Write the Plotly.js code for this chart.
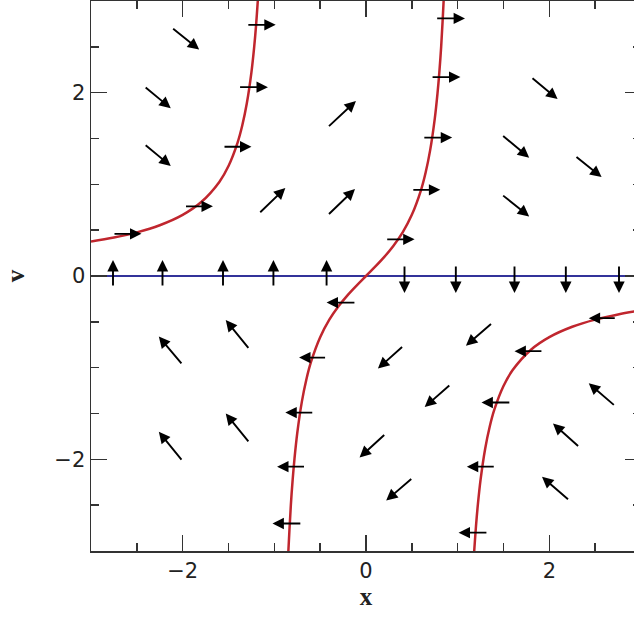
<!DOCTYPE html>
<html>
<head>
<meta charset="utf-8">
<script src="https://cdn.plot.ly/plotly-3.0.1.min.js"></script>
<style>
html, body { margin:0; padding:0; overflow:hidden; background:#fff; }
#plot { width:642px; height:618px; }
</style>
</head>
<body>
<div id="plot"></div>
<script>
// Red nullcline, three branches
const curveLeftX  = [-3.0, -2.75, -2.5, -2.25, -2.0, -1.8, -1.6, -1.5, -1.4, -1.35, -1.3, -1.25, -1.22, -1.2, -1.18, -1.17];
const curveLeftV  = [0.375, 0.419, 0.476, 0.554, 0.667, 0.804, 1.026, 1.2, 1.458, 1.641, 1.884, 2.222, 2.498, 2.727, 3.007, 3.17];
const curveMidX   = [-0.86, -0.85, -0.82, -0.8, -0.78, -0.75, -0.7, -0.65, -0.6, -0.5, -0.4, -0.3, -0.2, -0.1, 0, 0.1, 0.2, 0.3, 0.4, 0.5, 0.6, 0.65, 0.7, 0.75, 0.78, 0.8, 0.82, 0.85, 0.86];
const curveMidV   = [-3.29, -3.063, -2.503, -2.222, -1.992, -1.714, -1.373, -1.126, -0.9375, -0.667, -0.476, -0.330, -0.208, -0.101, 0, 0.101, 0.208, 0.330, 0.476, 0.667, 0.9375, 1.126, 1.373, 1.714, 1.992, 2.222, 2.503, 3.063, 3.29];
const curveRightX = [1.17, 1.18, 1.2, 1.22, 1.25, 1.3, 1.35, 1.4, 1.5, 1.6, 1.8, 2.0, 2.25, 2.5, 2.75, 3.0];
const curveRightV = [-3.17, -3.007, -2.727, -2.498, -2.222, -1.884, -1.641, -1.458, -1.2, -1.026, -0.804, -0.667, -0.554, -0.476, -0.419, -0.375];

// Blue nullcline
const lineX = [-3, 3];
const lineV = [0, 0];

// Direction-field arrows: tail (x0, v0) -> tip (x1, v1)
const arrowX0 = [
  -2.76, -2.22, -1.56, -1.01, -0.43,
   0.42,  0.98,  1.62,  2.18,  2.76,
  -2.76, -1.98, -1.56, -1.39, -1.30,
   0.76,  0.71,  0.62,  0.50,  0.215,
  -0.11, -0.43, -0.57, -0.66, -0.70,
   2.73,  1.93,  1.58,  1.41,  1.33,
  -2.12, -2.42, -2.42,
  -1.17, -0.42, -0.42,
   1.80,  1.48,  2.28,  1.48,
  -2.00, -1.27, -1.27, -2.00,
   1.38,  0.41,  0.925, 0.215, 0.51,
   2.72,  2.33,  2.22
];
const arrowV0 = [
  -0.12, -0.12, -0.12, -0.12, -0.12,
   0.12,  0.12,  0.12,  0.12,  0.12,
   0.46,  0.76,  1.41,  2.06,  2.74,
   2.81,  2.17,  1.51,  0.94,  0.40,
  -0.29, -0.89, -1.49, -2.08, -2.70,
  -0.46, -0.82, -1.38, -2.08, -2.80,
   2.71,  2.07,  1.44,
   0.68,  1.62,  0.66,
   2.17,  1.54,  1.31,  0.89,
  -0.97, -0.80, -1.82, -2.02,
  -0.51, -0.76, -1.18, -1.72, -2.20,
  -1.42, -1.87, -2.45
];
const arrowX1 = [
  -2.76, -2.22, -1.56, -1.01, -0.43,
   0.42,  0.98,  1.62,  2.18,  2.76,
  -2.45, -1.67, -1.25, -1.07, -0.985,
   1.08,  1.03,  0.94,  0.81,  0.53,
  -0.43, -0.73, -0.88, -0.97, -1.02,
   2.43,  1.62,  1.26,  1.10,  1.01,
  -1.82, -2.13, -2.13,
  -0.88, -0.11, -0.12,
   2.09,  1.78,  2.57,  1.78,
  -2.26, -1.53, -1.53, -2.26,
   1.09,  0.13,  0.64, -0.07,  0.22,
   2.43,  2.04,  1.92
];
const arrowV1 = [
   0.174, 0.174, 0.174, 0.174, 0.174,
  -0.185,-0.185,-0.185,-0.185,-0.185,
   0.46,  0.76,  1.41,  2.06,  2.74,
   2.81,  2.17,  1.51,  0.94,  0.40,
  -0.29, -0.89, -1.49, -2.08, -2.70,
  -0.46, -0.82, -1.38, -2.08, -2.80,
   2.47,  1.83,  1.20,
   0.96,  1.91,  0.95,
   1.93,  1.29,  1.08,  0.65,
  -0.66, -0.48, -1.50, -1.70,
  -0.76, -1.01, -1.43, -1.98, -2.45,
  -1.17, -1.61, -2.19
];

const xTickVals = [-2, 0, 2];
const xTickText = ['\u22122', '0', '2'];
const vTickVals = [-2, 0, 2];
const vTickText = ['\u22122', '0', '2'];

const traces = [
  { x: lineX, y: lineV, mode: 'lines', line: { color: '#33339a', width: 2 }, hoverinfo: 'skip' },
  { x: curveLeftX, y: curveLeftV, mode: 'lines', line: { color: '#c0262e', width: 2.5, shape: 'spline' }, hoverinfo: 'skip' },
  { x: curveMidX, y: curveMidV, mode: 'lines', line: { color: '#c0262e', width: 2.5, shape: 'spline' }, hoverinfo: 'skip' },
  { x: curveRightX, y: curveRightV, mode: 'lines', line: { color: '#c0262e', width: 2.5, shape: 'spline' }, hoverinfo: 'skip' }
];

const annotations = arrowX0.map((x0, i) => ({
  x: arrowX1[i], y: arrowV1[i], ax: x0, ay: arrowV0[i],
  xref: 'x', yref: 'y', axref: 'x', ayref: 'y',
  text: '', showarrow: true, arrowhead: 2, arrowsize: 1.2, arrowwidth: 1.9,
  arrowcolor: '#000', standoff: 0, startstandoff: 0
}));

const axisCommon = {
  showgrid: false, zeroline: false, showline: true, mirror: 'ticks',
  linecolor: '#333', linewidth: 1.5,
  ticks: 'inside', ticklen: 16, tickwidth: 1.5, tickcolor: '#333',
  tickmode: 'array',
  minor: { dtick: 0.5, tick0: 0, ticks: 'inside', ticklen: 8, tickwidth: 1.5, tickcolor: '#333' },
  tickfont: { family: 'DejaVu Sans', size: 21, color: '#222' },
  fixedrange: true
};

const layout = {
  width: 642, height: 618,
  margin: { l: 91, r: 1, t: 1, b: 67 },
  paper_bgcolor: '#fff', plot_bgcolor: '#fff',
  showlegend: false,
  xaxis: Object.assign({}, axisCommon, {
    range: [-3, 3], tickvals: xTickVals, ticktext: xTickText,
    title: { text: 'x', font: { family: 'Liberation Serif', size: 25, color: '#222', weight: 'bold' }, standoff: 5 }
  }),
  yaxis: Object.assign({}, axisCommon, {
    range: [-3, 3], tickvals: vTickVals, ticktext: vTickText,
    title: { text: 'v', font: { family: 'Liberation Serif', size: 25, color: '#222', weight: 'bold' }, standoff: 22 }
  }),
  annotations: annotations
};

Plotly.newPlot('plot', traces, layout, { staticPlot: true, displayModeBar: false });
</script>
</body>
</html>
